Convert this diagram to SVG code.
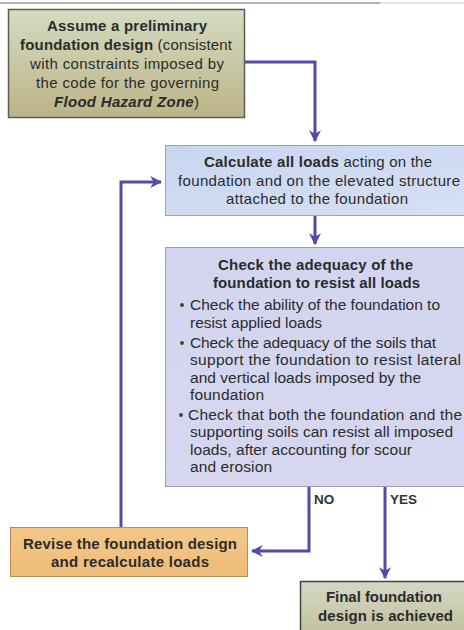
<svg xmlns="http://www.w3.org/2000/svg" width="464" height="630" viewBox="0 0 464 630">
<defs>
<linearGradient id="gOlive" x1="0" y1="0" x2="0" y2="1">
<stop offset="0" stop-color="#d3dcc2"/>
<stop offset="1" stop-color="#bdb487"/>
</linearGradient>
<linearGradient id="gBlue" x1="0" y1="0" x2="1" y2="1">
<stop offset="0" stop-color="#c9d6f0"/>
<stop offset="1" stop-color="#d6e0f4"/>
</linearGradient>
<linearGradient id="gLav" x1="0" y1="0" x2="0" y2="1">
<stop offset="0" stop-color="#d3d5f0"/>
<stop offset="1" stop-color="#d6d6ef"/>
</linearGradient>
<linearGradient id="gOrange" x1="0" y1="0" x2="0" y2="1">
<stop offset="0" stop-color="#f4c888"/>
<stop offset="1" stop-color="#eebb78"/>
</linearGradient>
<linearGradient id="gFinal" x1="0" y1="0" x2="0" y2="1">
<stop offset="0" stop-color="#d4d8c4"/>
<stop offset="1" stop-color="#c2c0a0"/>
</linearGradient>
<marker id="arr" viewBox="0 0 10 10" refX="9" refY="5" markerWidth="4" markerHeight="4" orient="auto" markerUnits="strokeWidth">
<path d="M0,0 L10,5 L0,10 L3,5 Z" fill="#5548a6"/>
</marker>
</defs>
<style>
text{font-family:"Liberation Sans",Arial,sans-serif;fill:#2b2b2b;font-size:15px}
.b{font-weight:bold}
.bi{font-weight:bold;font-style:italic}
.bl{font-size:15.5px}
.conn{fill:none;stroke:#5548a6;stroke-width:3}
.lbl{font-weight:bold;font-size:13.5px;fill:#333}
</style>
<rect x="0" y="0" width="464" height="630" fill="#ffffff"/>
<line x1="0" y1="3" x2="380" y2="3" stroke="#6a6a70" stroke-width="1.2"/>
<line x1="380" y1="3" x2="464" y2="3" stroke="#c8c8cc" stroke-width="1"/>

<g id="connectors">
<polyline class="conn" points="245,62 315,62 315,141" marker-end="url(#arr)"/>
<polyline class="conn" points="315,216 315,244" marker-end="url(#arr)"/>
<polyline class="conn" points="309,487 309,551 252,551" marker-end="url(#arr)"/>
<polyline class="conn" points="385,487 385,578" marker-end="url(#arr)"/>
<polyline class="conn" points="121,527 121,182 161,182" marker-end="url(#arr)"/>
<text class="lbl" x="314" y="504">NO</text>
<text class="lbl" x="390" y="504">YES</text>
</g>

<g id="node-assume">
<rect x="8.5" y="9.5" width="236" height="108" fill="url(#gOlive)" stroke="#5c5c52" stroke-width="1.5"/>
<text x="47" y="31" textLength="160"><tspan class="b">Assume a preliminary</tspan></text>
<text x="20" y="50" textLength="212"><tspan class="b">foundation design</tspan> (consistent</text>
<text x="30" y="69" textLength="194">with constraints imposed by</text>
<text x="36" y="88" textLength="183">the code for the governing</text>
<text x="54" y="107" textLength="145"><tspan class="bi">Flood Hazard Zone</tspan>)</text>
</g>

<g id="node-calculate">
<rect x="165.5" y="145.5" width="300" height="70" fill="url(#gBlue)" stroke="#9aa3bd" stroke-width="1"/>
<text x="204" y="167" textLength="228"><tspan class="b">Calculate all loads</tspan> acting on the</text>
<text x="178" y="186" textLength="282">foundation and on the elevated structure</text>
<text x="226" y="204" textLength="182">attached to the foundation</text>
</g>

<g id="node-check">
<rect x="165.5" y="247.5" width="300" height="239" fill="url(#gLav)" stroke="#9d9db2" stroke-width="1"/>
<text class="b" x="218" y="270" textLength="195">Check the adequacy of the</text>
<text class="b" x="213" y="288" textLength="207">foundation to resist all loads</text>
<circle cx="182" cy="305" r="2" fill="#444"/>
<text class="bl" x="190" y="310" textLength="250">Check the ability of the foundation to</text>
<text class="bl" x="190" y="328" textLength="132">resist applied loads</text>
<circle cx="182" cy="343" r="2" fill="#444"/>
<text class="bl" x="190" y="348" textLength="246">Check the adequacy of the soils that</text>
<text class="bl" x="190" y="365" textLength="271">support the foundation to resist lateral</text>
<text class="bl" x="190" y="383" textLength="231">and vertical loads imposed by the</text>
<text class="bl" x="190" y="400" textLength="74">foundation</text>
<circle cx="181" cy="415" r="2" fill="#444"/>
<text class="bl" x="188" y="420" textLength="274">Check that both the foundation and the</text>
<text class="bl" x="190" y="437" textLength="263">supporting soils can resist all imposed</text>
<text class="bl" x="190" y="455" textLength="222">loads, after accounting for scour</text>
<text class="bl" x="190" y="472" textLength="82">and erosion</text>
</g>

<g id="node-revise">
<rect x="10.5" y="527.5" width="237" height="49" fill="url(#gOrange)" stroke="#b98a58" stroke-width="1"/>
<text class="b" x="23" y="549" textLength="214">Revise the foundation design</text>
<text class="b" x="51" y="567" textLength="158">and recalculate loads</text>
</g>

<g id="node-final">
<rect x="300.5" y="581.5" width="166" height="52" fill="url(#gFinal)" stroke="#444" stroke-width="1.5"/>
<text class="b" x="326" y="602" textLength="116">Final foundation</text>
<text class="b" x="318" y="621" textLength="135">design is achieved</text>
</g>
</svg>
